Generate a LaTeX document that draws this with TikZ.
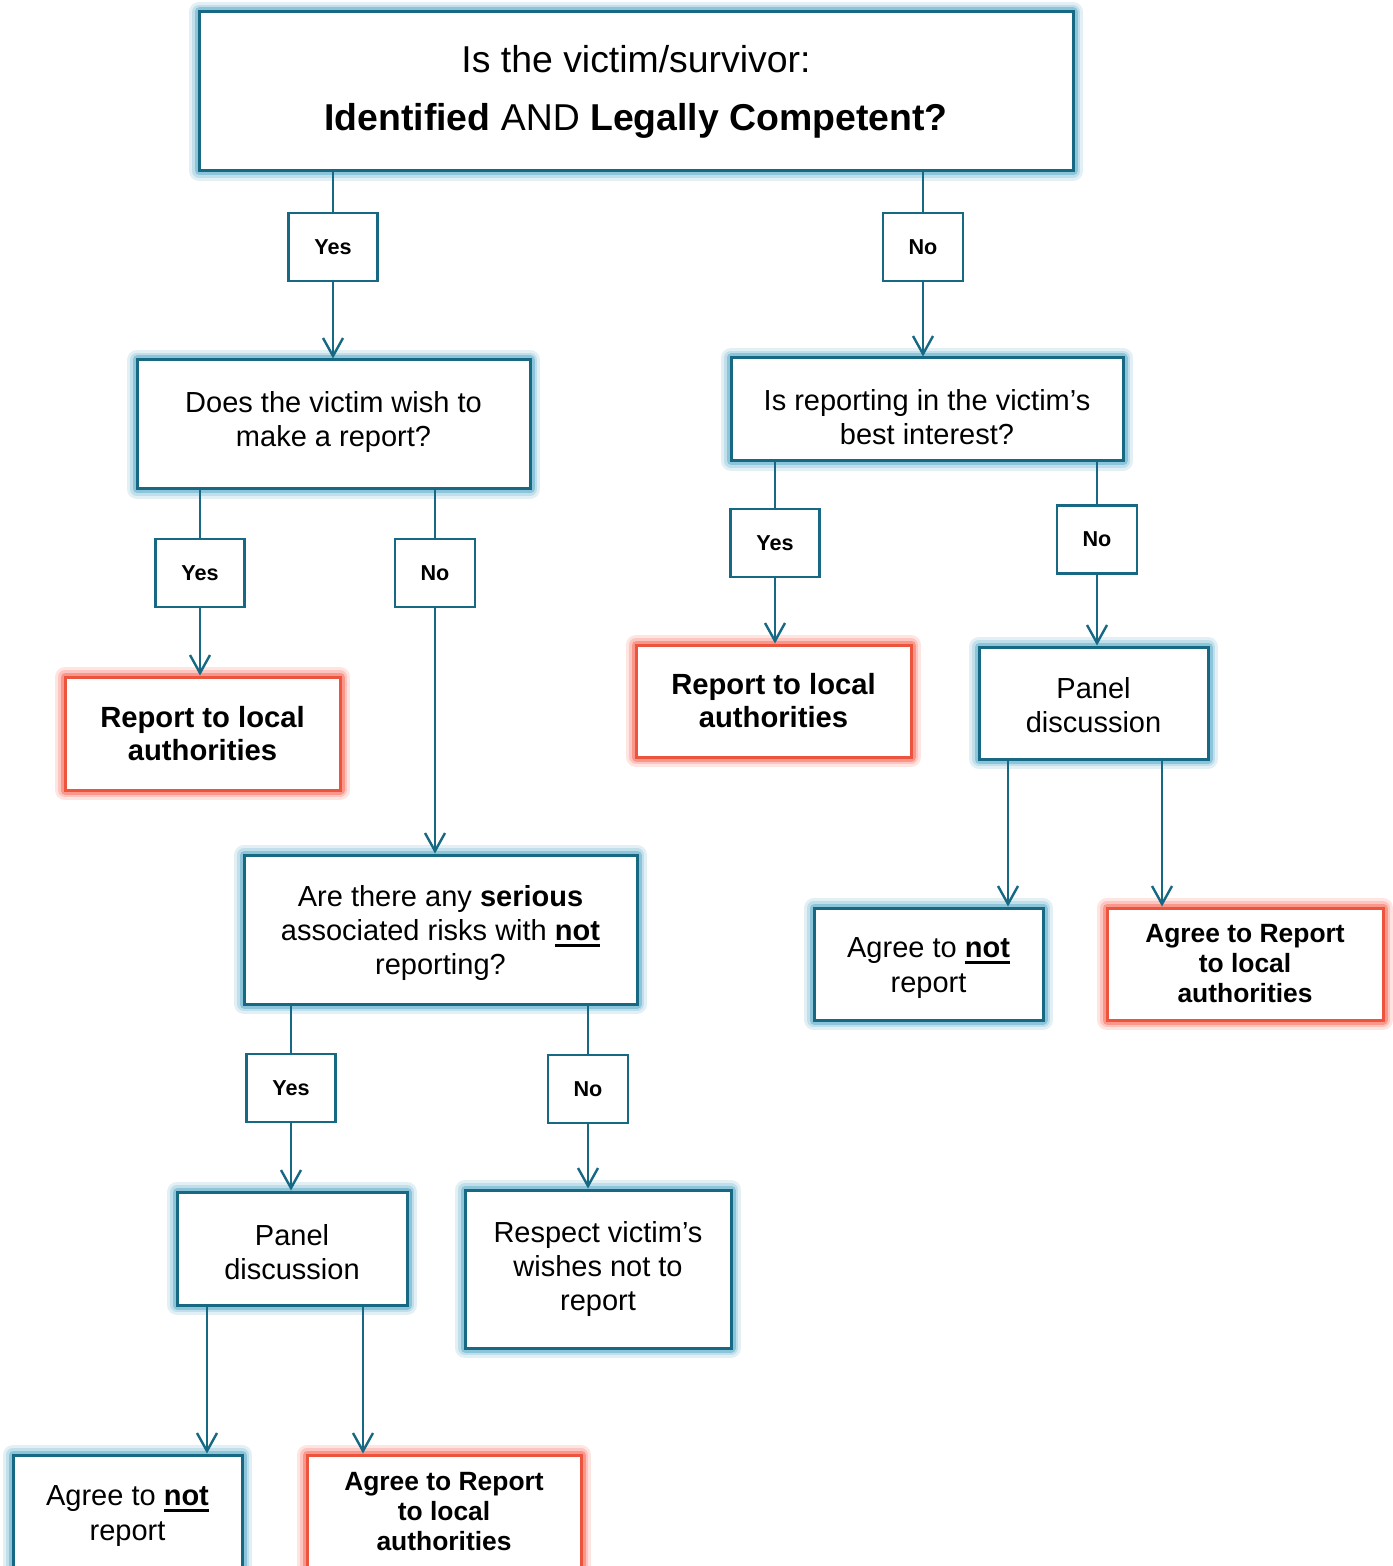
\documentclass[tikz,border=0pt]{standalone}
\usepackage{fontspec}
\setmainfont{Liberation Sans}
\usepackage{xcolor}
\usepackage{tikz}
\usetikzlibrary{arrows.meta, positioning, shapes.geometric}

\definecolor{flowteal}{RGB}{22,104,131}
\definecolor{flowred}{RGB}{236,84,62}
\definecolor{glowteal}{RGB}{140,196,218}
\definecolor{glowred}{RGB}{250,150,138}
\newcommand{\thickunder}[1]{\setbox0\hbox{#1}\rlap{\rule[-3pt]{\wd0}{1.5pt}}\box0}
\newcommand{\topgap}[1]{\rule{0pt}{\dimexpr 10.5pt+#1\relax}}
\newcommand{\botgap}[1]{\rule[\dimexpr -3pt-#1\relax]{0pt}{0pt}}

\begin{document}
\begin{tikzpicture}[
  x=0.5pt, y=-0.5pt,
  basebox/.style={rectangle, line width=1.5pt, fill=white, align=center, inner sep=0pt,
    font=\fontsize{14.5}{17}\selectfont},
  box/.style={basebox, draw=flowteal,
    preaction={draw=glowteal!25, line width=10pt, line join=round},
    preaction={draw=glowteal!55, line width=7pt, line join=round},
    preaction={draw=glowteal, line width=4.5pt, line join=round}},
  redbox/.style={basebox, draw=flowred, font=\bfseries\fontsize{14.6}{16.5}\selectfont,
    preaction={draw=glowred!25, line width=10pt, line join=round},
    preaction={draw=glowred!55, line width=7pt, line join=round},
    preaction={draw=glowred, line width=4.5pt, line join=round}},
  tag/.style={rectangle, draw=flowteal, line width=1.2pt, fill=white, inner sep=0pt,
    minimum height=34pt, font=\bfseries\fontsize{10.8}{12}\selectfont},
  yestag/.style={tag, minimum width=44.5pt},
  notag/.style={tag, minimum width=40pt},
  link/.style={draw=flowteal, line width=1.2pt},
  arr/.style={link, -{Straight Barb[length=9pt, width=10pt]}}
]
\fill[white, use as bounding box] (0,0) rectangle (1392,1566);

\node [box, minimum width=437pt, minimum height=79.5pt, font=\fontsize{18.7}{29}\selectfont] (top) at (636,91.5)
  {Is the victim/survivor:\\\textbf{Identified} AND \textbf{Legally Competent?}};

\node [yestag] (yes1) at (333,247) {Yes};
\node [notag] (no1) at (923,247) {No};

\node [box, minimum width=196.5pt, minimum height=64.5pt] (wish) at (333.5,424.5)
  {Does the victim wish to\\make a report?\botgap{3pt}};
\node [box, minimum width=196pt, minimum height=51.5pt] (best) at (927,409.5)
  {\topgap{8pt}Is reporting in the victim’s\\best interest?};

\node [yestag] (yes2) at (200,573) {Yes};
\node [notag] (no2) at (435,573) {No};
\node [yestag] (yes3) at (775,543) {Yes};
\node [notag] (no3) at (1097,539.5) {No};

\node [redbox, minimum width=137.5pt, minimum height=56.5pt] (red1) at (202.5,733.5)
  {Report to local\\authorities};
\node [redbox, minimum width=137.5pt, minimum height=56pt] (red2) at (773.5,701)
  {Report to local\\authorities};
\node [box, minimum width=114.5pt, minimum height=56pt] (panelR) at (1093.5,703)
  {\topgap{2pt}Panel\\discussion};

\node [box, minimum width=114.5pt, minimum height=56pt, font=\fontsize{14.5}{17.5}\selectfont] (notR) at (928.5,964)
  {\topgap{4pt}Agree to \thickunder{\textbf{not}}\\report};
\node [redbox, minimum width=138pt, minimum height=56pt, font=\bfseries\fontsize{13.2}{15}\selectfont] (agreeR) at (1245,964)
  {Agree to Report\\to local\\authorities};

\node [box, minimum width=196.5pt, minimum height=74.5pt] (risk) at (440.5,929.5)
  {\topgap{4pt}Are there any \textbf{serious}\\associated risks with \thickunder{\textbf{not}}\\reporting?};

\node [yestag] (yes4) at (291,1088) {Yes};
\node [notag] (no4) at (588,1089) {No};

\node [box, minimum width=115pt, minimum height=56.5pt] (panelL) at (292,1248.5)
  {\topgap{4pt}Panel\\discussion};
\node [box, minimum width=133pt, minimum height=79pt] (respect) at (598,1269)
  {Respect victim’s\\wishes not to\\report};

\node [box, minimum width=114.5pt, minimum height=56.5pt, font=\fontsize{14.5}{17.5}\selectfont] (notL) at (127.5,1511.5)
  {\topgap{4pt}Agree to \thickunder{\textbf{not}}\\report};
\node [redbox, minimum width=137pt, minimum height=56.5pt, font=\bfseries\fontsize{13.2}{15}\selectfont] (agreeL) at (444,1511.5)
  {Agree to Report\\to local\\authorities};

\coordinate (prA) at ([xshift=-42.75pt]panelR.south);
\coordinate (prB) at ([xshift=34.25pt]panelR.south);
\coordinate (plA) at ([xshift=-42.5pt]panelL.south);
\coordinate (plB) at ([xshift=35.5pt]panelL.south);

\draw [link] (top.south -| yes1) -- (yes1);
\draw [arr] (yes1) -- (yes1 |- wish.north);
\draw [link] (top.south -| no1) -- (no1);
\draw [arr] (no1) -- (no1 |- best.north);
\draw [link] (wish.south -| yes2) -- (yes2);
\draw [arr] (yes2) -- (yes2 |- red1.north);
\draw [link] (wish.south -| no2) -- (no2);
\draw [arr] (no2) -- (no2 |- risk.north);
\draw [link] (best.south -| yes3) -- (yes3);
\draw [arr] (yes3) -- (yes3 |- red2.north);
\draw [link] (best.south -| no3) -- (no3);
\draw [arr] (no3) -- (no3 |- panelR.north);
\draw [arr] (prA) -- (prA |- notR.north);
\draw [arr] (prB) -- (prB |- agreeR.north);
\draw [link] (risk.south -| yes4) -- (yes4);
\draw [arr] (yes4) -- (yes4 |- panelL.north);
\draw [link] (risk.south -| no4) -- (no4);
\draw [arr] (no4) -- (no4 |- respect.north);
\draw [arr] (plA) -- (plA |- notL.north);
\draw [arr] (plB) -- (plB |- agreeL.north);
\end{tikzpicture}
\end{document}
